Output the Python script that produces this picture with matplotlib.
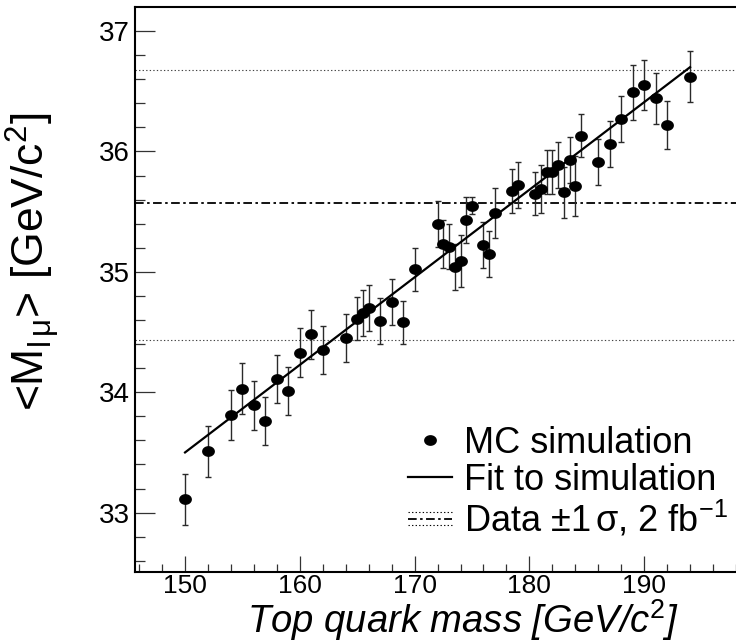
import numpy as np
import matplotlib
matplotlib.use("Agg")
import matplotlib.pyplot as plt
from matplotlib.lines import Line2D
from matplotlib.legend_handler import HandlerBase
from matplotlib.path import Path
from matplotlib.ticker import MultipleLocator

# ---------------- data ----------------
top_mass = [150, 152, 154, 155, 156, 157, 158, 159, 160, 161, 162, 164, 165, 165.5,
            166, 167, 168, 169, 170, 172, 172.5, 173, 173.5, 174, 174.5, 175, 176,
            176.5, 177, 178.5, 179, 180.5, 181, 181.5, 182, 182.5, 183, 183.5, 184,
            184.5, 186, 187, 188, 189, 190, 191, 192, 194]
mean_mlmu = [33.11, 33.51, 33.81, 34.03, 33.89, 33.76, 34.11, 34.01, 34.33, 34.48,
             34.35, 34.45, 34.61, 34.66, 34.70, 34.59, 34.75, 34.58, 35.02, 35.40,
             35.23, 35.21, 35.04, 35.09, 35.43, 35.55, 35.22, 35.15, 35.49, 35.67,
             35.72, 35.65, 35.69, 35.83, 35.83, 35.89, 35.66, 35.93, 35.71, 36.13,
             35.91, 36.06, 36.27, 36.49, 36.55, 36.44, 36.22, 36.62]
mlmu_err = [0.21, 0.21, 0.21, 0.21, 0.20, 0.20, 0.20, 0.20, 0.20, 0.20, 0.20, 0.20,
            0.18, 0.19, 0.19, 0.19, 0.19, 0.18,
            0.18, 0.19, 0.20, 0.19, 0.19, 0.22, 0.19, 0.07, 0.19, 0.19, 0.21, 0.18,
            0.19, 0.18, 0.20, 0.18, 0.18, 0.19, 0.21, 0.19, 0.25, 0.18,
            0.19, 0.19, 0.19, 0.23, 0.21, 0.21, 0.20, 0.21]
fit_x = [150, 194]
fit_y = [33.50, 36.70]
data_central = 35.57
data_low = 34.43
data_high = 36.68
x_ticks = [150, 160, 170, 180, 190]
y_ticks = [33, 34, 35, 36, 37]

# ---------------- style ----------------
plt.rcParams['font.family'] = ['Liberation Sans', 'DejaVu Sans']
plt.rcParams['mathtext.fontset'] = 'custom'
plt.rcParams['mathtext.rm'] = 'Liberation Sans'
plt.rcParams['mathtext.it'] = 'Liberation Sans:italic'
plt.rcParams['mathtext.default'] = 'regular'

W, H = 736, 642
fig = plt.figure(figsize=(W / 100, H / 100), dpi=100)
ax = fig.add_axes([135 / W, 1 - 572 / H, 1 - 135 / W, (572 - 7.3) / H])

# elliptical marker (reference is slightly wider than tall)
t = np.linspace(0, 2 * np.pi, 41)
ell = Path(np.column_stack([1.22 * np.cos(t), np.sin(t)]), closed=True)

ax.errorbar(top_mass, mean_mlmu, yerr=mlmu_err, fmt='none', ecolor='#2a2a2a',
            elinewidth=1.0, capsize=2.3, capthick=1.0, zorder=2)
ax.plot(top_mass, mean_mlmu, ls='none', marker=ell, ms=8.2, color='k', zorder=3)
ax.plot(fit_x, fit_y, color='k', lw=1.6, zorder=4)

dashdot = (0, (4.8, 1.9, 1.4, 1.9))
dotted = (0, (1.2, 2.0))
ax.axhline(data_central, color='k', lw=1.3, ls=dashdot, zorder=1)
ax.axhline(data_high, color='#444', lw=0.8, ls=dotted, zorder=1)
ax.axhline(data_low, color='#444', lw=0.8, ls=dotted, zorder=1)

ax.set_xlim(145.64, 198.0)
ax.set_ylim(32.507, 37.197)
ax.set_xticks(x_ticks)
ax.set_yticks(y_ticks)
ax.xaxis.set_minor_locator(MultipleLocator(2))
ax.yaxis.set_minor_locator(MultipleLocator(0.2))
ax.tick_params(axis='x', which='major', direction='in', length=11.5, width=0.9,
               color='#333', labelsize=19, pad=1.5)
ax.tick_params(axis='x', which='minor', direction='in', length=5.8, width=0.9, color='#333')
ax.tick_params(axis='y', which='major', direction='in', length=14.4, width=0.9,
               color='#333', labelsize=20, pad=4)
ax.tick_params(axis='y', which='minor', direction='in', length=7.2, width=0.9, color='#333')

for s in ['left', 'bottom', 'top']:
    ax.spines[s].set_linewidth(1.5)
ax.spines['right'].set_visible(False)

ax.set_xlabel(r'Top quark mass [GeV/c$^{\mathit{2}}$]', fontsize=27.5, style='italic')
ax.xaxis.set_label_coords(0.545, -0.045)
ax.set_ylabel(r'<M$_{l\,\mu}$> [GeV/c$^{2}$]', fontsize=32)
ax.yaxis.set_label_coords(-0.121, 0.55)


class DataBandHandler(HandlerBase):
    def create_artists(self, legend, orig_handle, xdescent, ydescent, width,
                       height, fontsize, trans):
        y0 = height / 2 - ydescent
        x0 = -xdescent
        arts = []
        for dy, ls, lw in [(0.26 * height, dotted, 0.8), (0.0, dashdot, 1.3),
                           (-0.26 * height, dotted, 0.8)]:
            arts.append(Line2D([x0, x0 + width], [y0 + dy, y0 + dy], ls=ls, lw=lw,
                               color='k', transform=trans))
        return arts


h_mc = Line2D([], [], ls='none', marker=ell, ms=8.2, color='k')
h_fit = Line2D([], [], color='k', lw=1.6)
h_data = Line2D([], [], color='k')
leg = ax.legend([h_mc, h_fit, h_data],
                ['MC simulation', 'Fit to simulation', r'Data $\pm$1$\,\sigma$, 2 fb$^{-1}$'],
                handler_map={h_data: DataBandHandler()},
                loc='upper left', bbox_to_anchor=((408 - 135) / 601, (572 - 426) / 565),
                frameon=False, fontsize=26, handlelength=1.22, handletextpad=0.33,
                labelspacing=0.04, borderpad=0, borderaxespad=0, numpoints=1)

fig.savefig('out.png', dpi=100)
